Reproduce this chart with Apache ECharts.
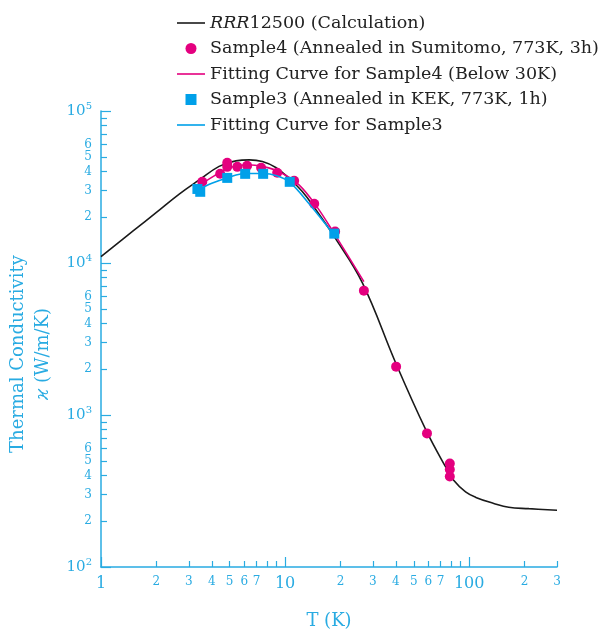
<!DOCTYPE html>
<html>
<head>
<meta charset="utf-8">
<script src="https://cdn.jsdelivr.net/npm/echarts@6/dist/echarts.min.js"></script>
<style>
  html, body { margin: 0; padding: 0; background: #fff; }
  #chart { width: 601px; height: 630px; }
</style>
</head>
<body>
<div id="chart"></div>
<script>
// calculation curve RRR12500
var calcT = [1, 1.5, 2, 2.66, 3.42, 4.38, 5.4, 6.4, 7.53, 8.9, 10.5, 12.4, 14.4, 18.5, 26.3, 39.9, 58, 74.5, 82.6, 95.6, 108.7, 136, 164, 211, 300];
var calcK = [11000, 16300, 21500, 28400, 35200, 43200, 47000, 47700, 46500, 42500, 36100, 29500, 23200, 14900, 7400, 2200, 804, 455, 371, 312, 287, 262, 247, 242, 236];

// Sample4 measured points
var s4T = [3.55, 4.44, 4.85, 4.85, 5.5, 6.22, 7.41, 9.06, 11.2, 14.4, 18.7, 26.8, 40.1, 59, 78.5, 78.5, 78.5];
var s4K = [34200, 38600, 45600, 42900, 42900, 43600, 42300, 39200, 34800, 24500, 16100, 6580, 2080, 757, 480, 438, 394];

// fitting curve for Sample4 (below 30K)
var fit4T = [3.33, 4.12, 4.97, 6.22, 7.7, 9.29, 11.9, 14.9, 18.5, 26.8];
var fit4K = [31700, 37400, 42300, 44300, 42900, 39800, 32700, 23400, 15600, 7540];

// Sample3 measured points
var s3T = [3.34, 3.46, 4.85, 6.07, 7.6, 10.6, 18.5];
var s3K = [30700, 29400, 36300, 38600, 38600, 34200, 15600];

// fitting curve for Sample3
var fit3T = [3.3, 4.0, 4.85, 6.07, 7.6, 9.0, 10.6, 13.5, 18.5];
var fit3K = [30000, 33500, 36300, 38800, 38800, 37500, 34000, 24500, 15200];

// tick labels
var xLabels = [1, 2, 3, 4, 5, 6, 7, 10, 20, 30, 40, 50, 60, 70, 100, 200, 300];
var xMajor = [1, 10, 100];
var xMinor = [2, 3, 4, 5, 6, 7, 8, 9, 20, 30, 40, 50, 60, 70, 80, 90, 200, 300];
var yLabels = [100, 200, 300, 400, 500, 600, 1000, 2000, 3000, 4000, 5000, 6000, 10000, 20000, 30000, 40000, 50000, 60000, 100000];
var yMajor = [100, 1000, 10000, 100000];
var yMinor = [200, 300, 400, 500, 600, 700, 800, 900, 2000, 3000, 4000, 5000, 6000, 7000, 8000, 9000,
  20000, 30000, 40000, 50000, 60000, 70000, 80000, 90000];

var calcName = 'RRR12500 (Calculation)';
var s4Name = 'Sample4 (Annealed in Sumitomo, 773K, 3h)';
var fit4Name = 'Fitting Curve for Sample4 (Below 30K)';
var s3Name = 'Sample3 (Annealed in KEK, 773K, 1h)';
var fit3Name = 'Fitting Curve for Sample3';

var MAG = '#e4007f';
var CYAN = '#00a0e9';
var AXIS = '#29abe2';
var SERIF = '"DejaVu Serif", "Liberation Serif", serif';
var LINE_ICON = 'path://M0,0h28v1.6h-28z';
var SQUARE_ICON = 'path://M0,0h10v10h-10z';

function zip(a, b) {
  return a.map(function (v, i) { return [v, b[i]]; });
}
function isPow10(v) {
  var l = Math.log10(v);
  return Math.abs(l - Math.round(l)) < 1e-9;
}
function leadDigit(v) {
  return Math.round(v / Math.pow(10, Math.floor(Math.log10(v) + 1e-9)));
}

var chart = echarts.init(document.getElementById('chart'));

var axisLine = { show: true, lineStyle: { color: AXIS, width: 1.5 } };

chart.setOption({
  animation: false,
  grid: { left: 101, right: 44, top: 111, bottom: 63, containLabel: false, outerBoundsMode: 'none' },
  legend: {
    orient: 'vertical',
    left: 172,
    top: 9,
    itemWidth: 28,
    itemHeight: 11,
    itemGap: 7.5,
    data: [
      { name: calcName, icon: LINE_ICON },
      { name: s4Name, icon: 'circle' },
      { name: fit4Name, icon: LINE_ICON },
      { name: s3Name, icon: SQUARE_ICON },
      { name: fit3Name, icon: LINE_ICON }
    ],
    formatter: function (name) {
      if (name === calcName) return '{i|RRR}12500 (Calculation)';
      return name;
    },
    textStyle: {
      fontFamily: SERIF, fontSize: 17.5, color: '#222',
      rich: { i: { fontFamily: SERIF, fontSize: 17.5, fontStyle: 'italic', color: '#222' } }
    }
  },
  xAxis: [
    {
      type: 'log', logBase: 10, min: 1, max: 300, position: 'bottom',
      axisLine: axisLine,
      axisTick: { show: true, inside: true, length: 10, customValues: xMajor, lineStyle: { color: AXIS, width: 1.2 } },
      splitLine: { show: false },
      axisLabel: {
        customValues: xLabels,
        margin: 9,
        formatter: function (v) {
          return isPow10(v) ? '{b|' + v + '}' : '{s|' + leadDigit(v) + '}';
        },
        rich: {
          b: { fontFamily: SERIF, fontSize: 16, color: AXIS },
          s: { fontFamily: SERIF, fontSize: 12, color: AXIS, padding: [0, 0, 3, 0] }
        }
      },
      name: 'T (K)', nameLocation: 'middle', nameGap: 45,
      nameTextStyle: { fontFamily: SERIF, fontSize: 18, color: AXIS }
    },
    {
      type: 'log', logBase: 10, min: 1, max: 300, position: 'bottom',
      axisLine: { show: false },
      axisTick: { show: true, inside: true, length: 6, customValues: xMinor, lineStyle: { color: AXIS, width: 1.2 } },
      splitLine: { show: false },
      axisLabel: { show: false }
    }
  ],
  yAxis: [
    {
      type: 'log', logBase: 10, min: 100, max: 100000, position: 'left',
      axisLine: axisLine,
      axisTick: { show: true, inside: true, length: 10, customValues: yMajor, lineStyle: { color: AXIS, width: 1.2 } },
      splitLine: { show: false },
      axisLabel: {
        customValues: yLabels,
        margin: 9,
        formatter: function (v) {
          if (isPow10(v)) return '{b|10}{p|' + Math.round(Math.log10(v)) + '}';
          return '{s|' + leadDigit(v) + '}';
        },
        rich: {
          b: { fontFamily: SERIF, fontSize: 15, color: AXIS },
          p: { fontFamily: SERIF, fontSize: 10, color: AXIS, padding: [0, 0, 9, 0] },
          s: { fontFamily: SERIF, fontSize: 12, color: AXIS }
        }
      },
      name: 'Thermal Conductivity\n{k|ϰ} (W/m/K)',
      nameLocation: 'middle', nameRotate: 90, nameGap: 38,
      nameTextStyle: {
        fontFamily: SERIF, fontSize: 18, color: AXIS, lineHeight: 25, padding: [0, 30, 0, 0],
        rich: { k: { fontFamily: SERIF, fontSize: 18, fontStyle: 'italic', color: AXIS } }
      }
    },
    {
      type: 'log', logBase: 10, min: 100, max: 100000, position: 'left',
      axisLine: { show: false },
      axisTick: { show: true, inside: true, length: 6, customValues: yMinor, lineStyle: { color: AXIS, width: 1.2 } },
      splitLine: { show: false },
      axisLabel: { show: false }
    }
  ],
  series: [
    {
      name: calcName, type: 'line', smooth: 0.4, symbol: 'none',
      lineStyle: { color: '#1a1a1a', width: 1.6 }, itemStyle: { color: '#1a1a1a' },
      data: zip(calcT, calcK), z: 2
    },
    {
      name: s4Name, type: 'scatter', symbol: 'circle', symbolSize: 10,
      itemStyle: { color: MAG, opacity: 1 },
      data: zip(s4T, s4K), z: 3
    },
    {
      name: fit4Name, type: 'line', smooth: 0.35, symbol: 'none',
      lineStyle: { color: MAG, width: 1.6 }, itemStyle: { color: MAG },
      data: zip(fit4T, fit4K), z: 4
    },
    {
      name: s3Name, type: 'scatter', symbol: 'rect', symbolSize: 10,
      itemStyle: { color: CYAN, opacity: 1 },
      data: zip(s3T, s3K), z: 5
    },
    {
      name: fit3Name, type: 'line', smooth: 0.35, symbol: 'none',
      lineStyle: { color: CYAN, width: 1.6 }, itemStyle: { color: CYAN },
      data: zip(fit3T, fit3K), z: 6
    }
  ]
});
</script>
</body>
</html>
